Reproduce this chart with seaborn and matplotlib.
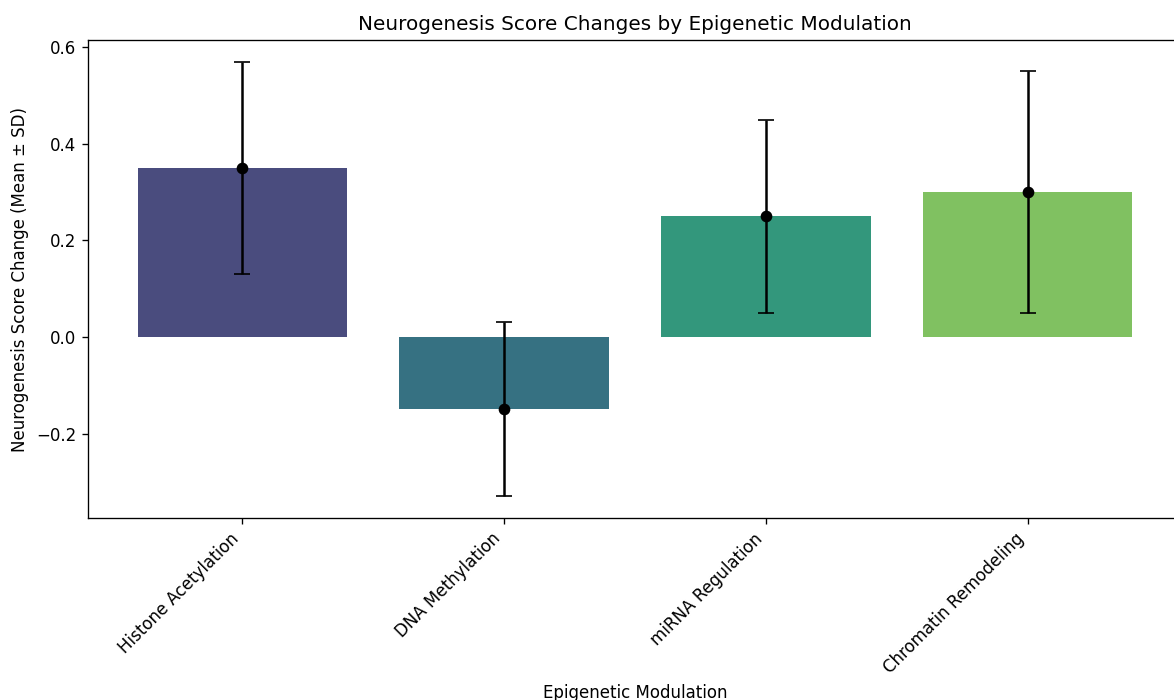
# Neurogenesis score changes by epigenetic modulation

import numpy as np
import pandas as pd
import matplotlib
matplotlib.use('Agg')
import matplotlib.pyplot as plt
import seaborn as sns

# Dados
modulacoes = ['Histone Acetylation', 'DNA Methylation', 'miRNA Regulation', 'Chromatin Remodeling']
media = [0.35, -0.15, 0.25, 0.30]
desvio = [0.22, 0.18, 0.20, 0.25]

df = pd.DataFrame({'modulacao': modulacoes, 'media': media, 'desvio': desvio})

# Figura (1174x700 px a 120 dpi)
fig = plt.figure(figsize=(1174 / 120, 700 / 120), dpi=120)
ax = fig.add_axes([88 / 1174, 182 / 700, 1094 / 1174, 478 / 700])

sns.barplot(data=df, x='modulacao', y='media', hue='modulacao', palette='viridis',
            legend=False, errorbar=None, ax=ax)
ax.errorbar(np.arange(len(modulacoes)), df['media'], yerr=df['desvio'],
            fmt='o', color='black', ecolor='black', capsize=5)

# limites como no autoscale do matplotlib
ax.set_xlim(-0.4 - 0.19, len(modulacoes) - 1 + 0.4 + 0.19)
lo = min(np.array(media) - np.array(desvio))
hi = max(np.array(media) + np.array(desvio))
pad = (hi - lo) * 0.05
ax.set_ylim(lo - pad, hi + pad)

ax.set_title('Neurogenesis Score Changes by Epigenetic Modulation')
ax.set_xlabel('Epigenetic Modulation')
ax.set_ylabel('Neurogenesis Score Change (Mean ± SD)')
ax.set_xticks(range(len(modulacoes)))
ax.set_xticklabels(modulacoes, rotation=45, ha='right')

fig.savefig('out.png', dpi=120)
